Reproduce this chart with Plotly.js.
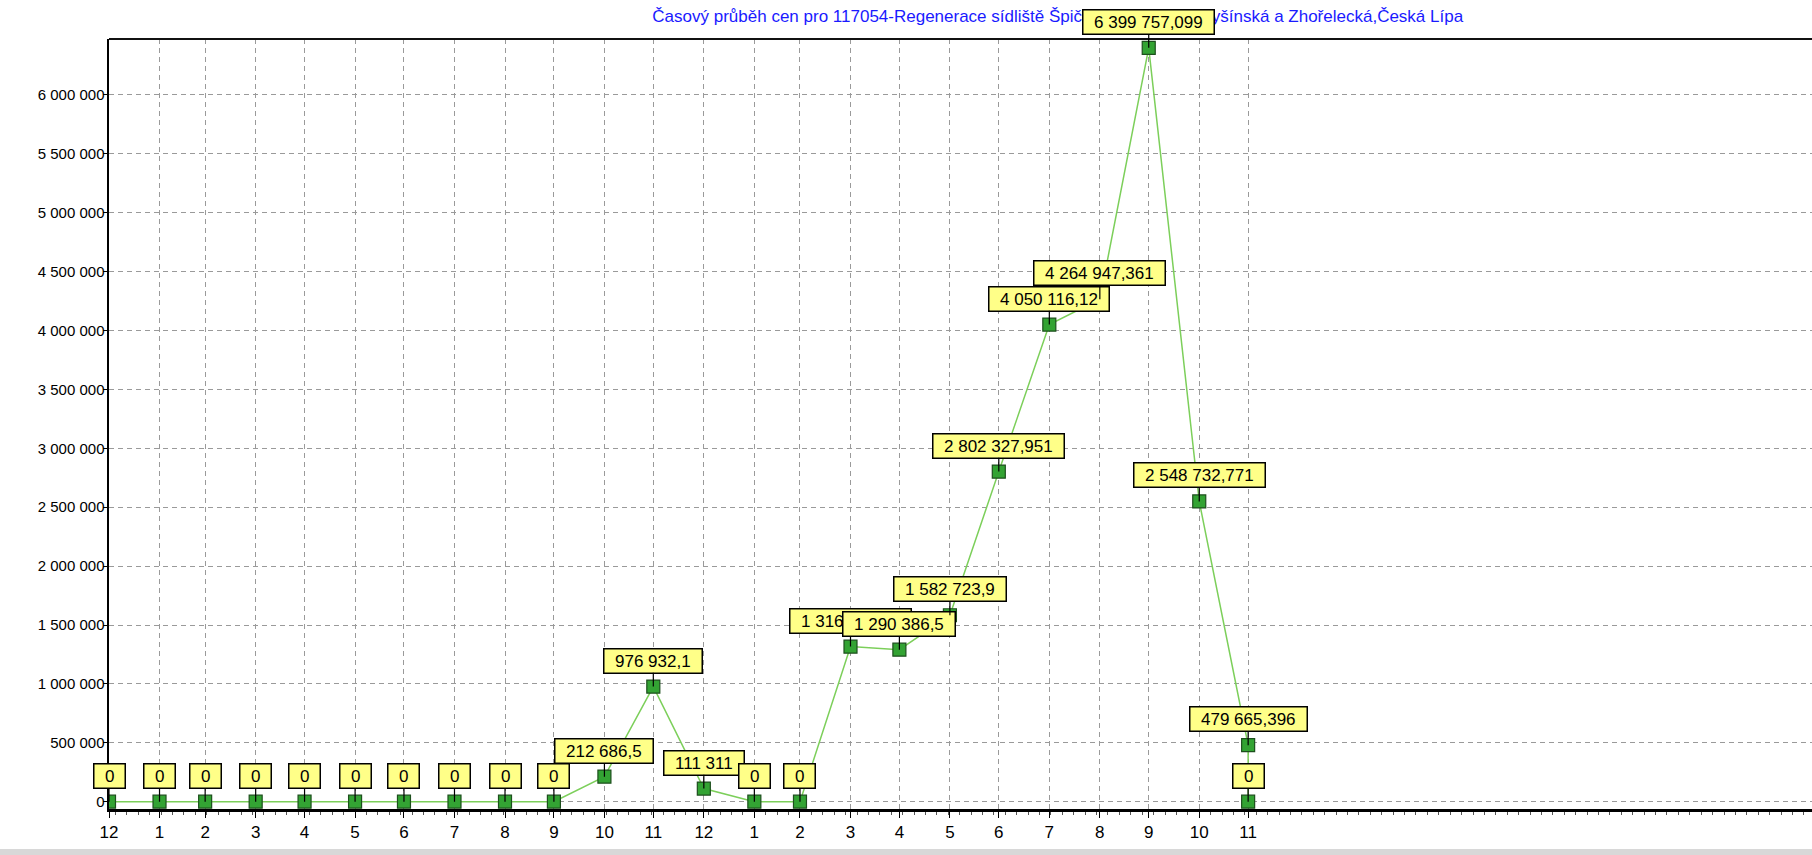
<!DOCTYPE html>
<html>
<head>
<meta charset="utf-8">
<script src="https://cdn.plot.ly/plotly-3.0.1.min.js"></script>
<style>
  html, body { margin: 0; padding: 0; background: #d8d8d8; overflow: hidden; }
  #chart { width: 1812px; height: 849px; background: #ffffff; }
</style>
</head>
<body>
<div id="chart"></div>
<script>
// ---- data ----
const dates = ['2008-12-31','2009-01-31','2009-02-28','2009-03-31','2009-04-30','2009-05-31',
               '2009-06-30','2009-07-31','2009-08-31','2009-09-30','2009-10-31','2009-11-30',
               '2009-12-31','2010-01-31','2010-02-28','2010-03-31','2010-04-30','2010-05-31',
               '2010-06-30','2010-07-31','2010-08-31','2010-09-30','2010-10-31','2010-11-30',
               '2010-11-30'];
const values = [0, 0, 0, 0, 0, 0,
                0, 0, 0, 0, 212686.5, 976932.1,
                111311, 0, 0, 1316522.67, 1290386.5, 1582723.9,
                2802327.951, 4050116.12, 4264947.361, 6399757.099, 2548732.771, 479665.396,
                0];
const tickDates = ['2008-12-31','2009-01-31','2009-02-28','2009-03-31','2009-04-30','2009-05-31',
                   '2009-06-30','2009-07-31','2009-08-31','2009-09-30','2009-10-31','2009-11-30',
                   '2009-12-31','2010-01-31','2010-02-28','2010-03-31','2010-04-30','2010-05-31',
                   '2010-06-30','2010-07-31','2010-08-31','2010-09-30','2010-10-31','2010-11-30'];
const tickLabels = ['12','1','2','3','4','5','6','7','8','9','10','11',
                    '12','1','2','3','4','5','6','7','8','9','10','11'];
const titleText = 'Časový průběh cen pro 117054-Regenerace sídliště Špičák, ul. Lipová a Vyšínská a Zhořelecká,Česká Lípa';

// number label in Czech style: space thousands, comma decimals
function fmt(v) {
  const parts = String(v).split('.');
  const ip = parts[0].replace(/\B(?=(\d{3})+(?!\d))/g, ' ');
  return parts.length > 1 ? ip + ',' + parts[1] : ip;
}

const FONT = 'Liberation Sans, Arial, sans-serif';
const PAD = '\u2002';

const trace = {
  type: 'scatter',
  mode: 'lines+markers',
  x: dates,
  y: values,
  line: { color: '#7ccf5a', width: 1.5 },
  marker: { symbol: 'square', size: 13, color: '#33a333', line: { color: '#1d4f1d', width: 1.2 } },
  hoverinfo: 'x+y'
};

const annotations = values.map((v, i) => ({
  x: dates[i], y: v, xref: 'x', yref: 'y',
  text: PAD + fmt(v) + PAD,
  showarrow: true, arrowhead: 0, arrowwidth: 1.2, arrowcolor: '#000000',
  ax: 0, ay: -26, standoff: 0,
  bgcolor: '#ffff88', bordercolor: '#000000', borderwidth: 1.5, borderpad: 2,
  font: { family: FONT, size: 17, color: '#000000' }
}));

const layout = {
  width: 1812, height: 849,
  margin: { l: 109, r: 0, t: 39, b: 40 },
  paper_bgcolor: '#ffffff', plot_bgcolor: '#ffffff',
  separators: ', ',
  showlegend: false,
  title: {
    text: titleText,
    font: { family: FONT, size: 17, color: '#1a1aff' },
    xref: 'paper', x: 0.5571, xanchor: 'center',
    yref: 'container', y: 0.981, yanchor: 'middle'
  },
  xaxis: {
    type: 'date',
    range: ['2008-12-31', '2011-11-11'],
    tickmode: 'array', tickvals: tickDates, ticktext: tickLabels,
    ticks: 'outside', ticklen: 6, tickcolor: '#000000', tickwidth: 1,
    tickfont: { family: FONT, size: 17, color: '#000000' },
    showgrid: true, gridcolor: '#9a9a9a', griddash: '5px,4px', gridwidth: 1,
    showline: true, linecolor: '#000000', linewidth: 3,
    zeroline: false,
    minor: { dtick: 7 * 86400000, ticks: 'outside', ticklen: 3, tickcolor: '#555555', showgrid: false },
    fixedrange: true
  },
  yaxis: {
    range: [-62000, 6474500],
    dtick: 500000, tickformat: ',d',
    ticks: 'outside', ticklen: 4, tickcolor: '#000000',
    ticklabelstandoff: -5,
    tickfont: { family: FONT, size: 15, color: '#000000' },
    showgrid: true, gridcolor: '#9a9a9a', griddash: '5px,4px', gridwidth: 1,
    showline: true, linecolor: '#000000', linewidth: 2.5,
    zeroline: false,
    fixedrange: true
  },
  shapes: [
    { type: 'line', xref: 'paper', yref: 'paper', x0: 0, x1: 1, y0: 1, y1: 1,
      line: { color: '#111111', width: 2 } }
  ],
  annotations: annotations
};

Plotly.newPlot('chart', [trace], layout, { displayModeBar: false, staticPlot: true });
</script>
</body>
</html>
